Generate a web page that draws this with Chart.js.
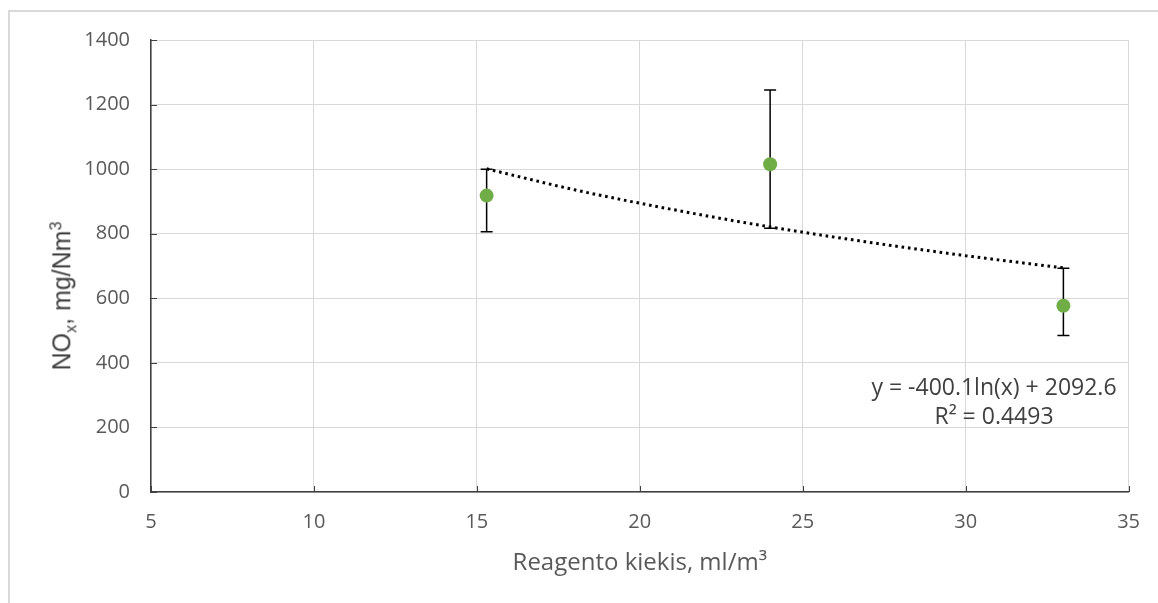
<!DOCTYPE html>
<html>
<head>
<meta charset="utf-8">
<script src="https://cdn.jsdelivr.net/npm/chart.js@4.4.1/dist/chart.umd.min.js"></script>
<style>
  html, body { margin: 0; padding: 0; background: #fff; }
  #wrap { position: relative; width: 1158px; height: 603px; overflow: hidden; }
  #frame { position: absolute; left: 8px; top: 10px; right: -10px; bottom: -10px;
    border-left: 2px solid #d9d9d9; border-top: 2px solid #d9d9d9; }
  #chart { position: absolute; left: 0; top: 0; }
  #y-title { position: absolute; left: 64px; top: 296px; white-space: nowrap;
    transform: translate(-50%, -50%) rotate(-90deg);
    font: 25px 'Liberation Sans', Arial, sans-serif; color: #404040; }
  #y-title sub, #y-title sup { font-size: 16px; }
  #trend-label { position: absolute; left: 844px; top: 372px; width: 300px; text-align: center;
    font: 23px 'Open Sans', sans-serif; line-height: 29px; color: #404040; }
</style>
</head>
<body>
<div id="wrap">
  <div id="frame"></div>
  <canvas id="chart" width="1158" height="603"></canvas>
  <div id="y-title">NO<sub>x</sub>, mg/Nm<sup>3</sup></div>
  <div id="trend-label">y = -400.1ln(x) + 2092.6<br>R² = 0.4493</div>
</div>
<script>
// measured points (reagent amount vs NOx)
const reagentX = [15.3, 24, 33];
const noxY = [918, 1015, 577];
const errHigh = [1000, 1245, 693];
const errLow = [806, 817, 485];

// logarithmic trendline
const trendX = [15.3, 18, 21, 24, 27, 30, 33];
const trendY = [1001, 936, 875, 821, 774, 732, 694];

const xTicks = [5, 10, 15, 20, 25, 30, 35];
const yTicks = [0, 200, 400, 600, 800, 1000, 1200, 1400];

Chart.defaults.font.family = "'Open Sans', sans-serif";

const errorBars = {
  id: 'errorBars',
  beforeDatasetsDraw(chart) {
    const { ctx, scales: { x, y } } = chart;
    ctx.save();
    ctx.strokeStyle = '#000';
    ctx.lineWidth = 1.5;
    reagentX.forEach((vx, i) => {
      const px = x.getPixelForValue(vx);
      const top = y.getPixelForValue(errHigh[i]);
      const bot = y.getPixelForValue(errLow[i]);
      ctx.beginPath();
      ctx.moveTo(px, top); ctx.lineTo(px, bot);
      ctx.moveTo(px - 6, top); ctx.lineTo(px + 6, top);
      ctx.moveTo(px - 6, bot); ctx.lineTo(px + 6, bot);
      ctx.stroke();
    });
    ctx.restore();
  },
};

// excel style "inside" tick marks
const insideTicks = {
  id: 'insideTicks',
  beforeDatasetsDraw(chart) {
    const { ctx, chartArea, scales: { x, y } } = chart;
    ctx.save();
    ctx.strokeStyle = '#404040';
    ctx.lineWidth = 1;
    ctx.beginPath();
    yTicks.forEach(v => {
      const py = Math.round(y.getPixelForValue(v)) + 0.5;
      ctx.moveTo(chartArea.left, py); ctx.lineTo(chartArea.left + 6, py);
    });
    xTicks.forEach(v => {
      const px = Math.round(x.getPixelForValue(v)) + 0.5;
      ctx.moveTo(px, chartArea.bottom); ctx.lineTo(px, chartArea.bottom - 6);
    });
    ctx.stroke();
    ctx.restore();
  },
};

new Chart(document.getElementById('chart'), {
  type: 'scatter',
  data: {
    datasets: [{
      label: 'NOx',
      data: reagentX.map((vx, i) => ({ x: vx, y: noxY[i] })),
      pointRadius: 7,
      pointHoverRadius: 7,
      pointBackgroundColor: '#70AD47',
      pointBorderWidth: 0,
      order: 1,
    }, {
      label: 'Log. trend',
      type: 'line',
      data: trendX.map((vx, i) => ({ x: vx, y: trendY[i] })),
      borderColor: '#000',
      borderWidth: 3,
      borderDash: [2.6, 3.8],
      pointRadius: 0,
      fill: false,
      cubicInterpolationMode: 'monotone',
      order: 0,
    }],
  },
  options: {
    responsive: false,
    animation: false,
    layout: { padding: { left: 0, right: 27, top: 40, bottom: 0 } },
    plugins: { legend: { display: false }, tooltip: { enabled: false } },
    scales: {
      x: {
        type: 'linear',
        min: 5,
        max: 35,
        afterBuildTicks(scale) { scale.ticks = xTicks.map(v => ({ value: v })); },
        afterFit(scale) { scale.height = 111; },
        grid: { color: '#d9d9d9', lineWidth: 1, drawTicks: false },
        border: { color: '#404040', width: 1.5 },
        ticks: { color: '#595959', font: { size: 20 }, padding: 18, maxRotation: 0,
          callback: v => String(v) },
        title: {
          display: true,
          text: 'Reagento kiekis, ml/m³',
          color: '#595959',
          font: { size: 24 },
          padding: { top: 0, bottom: 25 },
        },
      },
      y: {
        min: 0,
        max: 1400,
        afterBuildTicks(scale) { scale.ticks = yTicks.map(v => ({ value: v })); },
        afterFit(scale) { scale.width = 151; },
        grid: { color: '#d9d9d9', lineWidth: 1, drawTicks: false },
        border: { color: '#404040', width: 1.5 },
        ticks: { color: '#595959', font: { size: 20 }, padding: 21,
          callback: v => String(v) },
      },
    },
  },
  plugins: [errorBars, insideTicks],
});
</script>
</body>
</html>
